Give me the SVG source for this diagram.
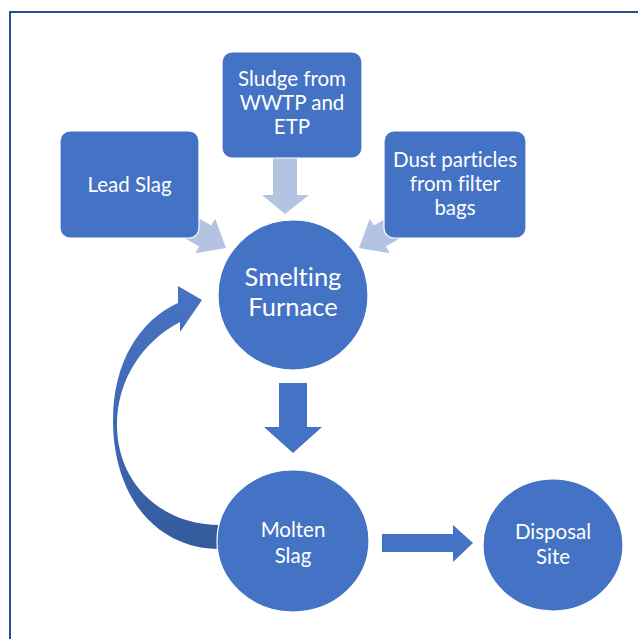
<svg xmlns="http://www.w3.org/2000/svg" width="638" height="639" viewBox="0 0 638 639">
<defs>
<style>
.node{fill:#4472C4;stroke:#FFFFFF;stroke-width:1.2}
.light{fill:#B4C3E1}
.dark{fill:#4472C4}
.t{font-family:Lato,"Open Sans","Liberation Sans",sans-serif;fill:#FFFFFF;font-size:20.5px;text-anchor:middle;font-variant-ligatures:none;font-feature-settings:"liga" 0,"dlig" 0}
.big{font-size:25.5px}
</style>
<linearGradient id="cg" x1="0" y1="0" x2="0" y2="1">
<stop offset="0" stop-color="#4673C3"/>
<stop offset="0.55" stop-color="#3F68B3"/>
<stop offset="1" stop-color="#335A9C"/>
</linearGradient>
</defs>
<rect x="0" y="0" width="638" height="639" fill="#FFFFFF"/>
<path d="M10,645 L10,12 L645,12" fill="none" stroke="#25518F" stroke-width="2"/>
<g id="connectors">
<path class="light" d="M273,158 L297,158 L297,195 L309,195 L285,214 L262,195 L273,195 Z"/>
<g transform="translate(226,248) rotate(30)"><path class="light" d="M-50,-12 L-24,-12 L-24,-20 L0,0 L-24,20 L-24,12 L-50,12 Z"/></g>
<g transform="translate(359,248) rotate(150)"><path class="light" d="M-50,-12 L-24,-12 L-24,-20 L0,0 L-24,20 L-24,12 L-50,12 Z"/></g>
<path class="dark" d="M279,383 L307,383 L307,427 L322,427 L293,453 L264,427 L279,427 Z"/>
<path class="dark" d="M382,534 L453,534 L453,525 L473,543 L453,562 L453,552 L382,552 Z"/>
<path fill="url(#cg)" d="M220,549 C155,549 113,495 113,420 C113,362 140,320 178,303 L178,286 L202,300 L180,332 L180,322 C142,342 117,380 117,425 C117,482 160,525 220,525 Z"/>
</g>
<g id="lead-slag"><rect class="node" x="60" y="131" width="139" height="107" rx="10"/><text class="t" x="129.5" y="192">Lead Slag</text></g>
<g id="sludge"><rect class="node" x="222" y="52" width="140" height="106" rx="10"/><text class="t" x="292" y="86">Sludge from</text><text class="t" x="292" y="110">WWTP and</text><text class="t" x="292" y="134">ETP</text></g>
<g id="dust"><rect class="node" x="384" y="131" width="142" height="107" rx="10"/><text class="t" x="455" y="167">Dust particles</text><text class="t" x="455" y="191">from filter</text><text class="t" x="455" y="214.5">bags</text></g>
<g id="smelting-furnace"><circle class="node" cx="293" cy="295" r="75"/><text class="t big" x="293" y="286">Smelting</text><text class="t big" x="293" y="316">Furnace</text></g>
<g id="molten-slag"><ellipse class="node" cx="293" cy="541" rx="76" ry="71"/><text class="t" x="293" y="537">Molten</text><text class="t" x="293" y="563">Slag</text></g>
<g id="disposal-site"><ellipse class="node" cx="553" cy="545" rx="70" ry="66"/><text class="t" x="553" y="539">Disposal</text><text class="t" x="553" y="564">Site</text></g>
</svg>
